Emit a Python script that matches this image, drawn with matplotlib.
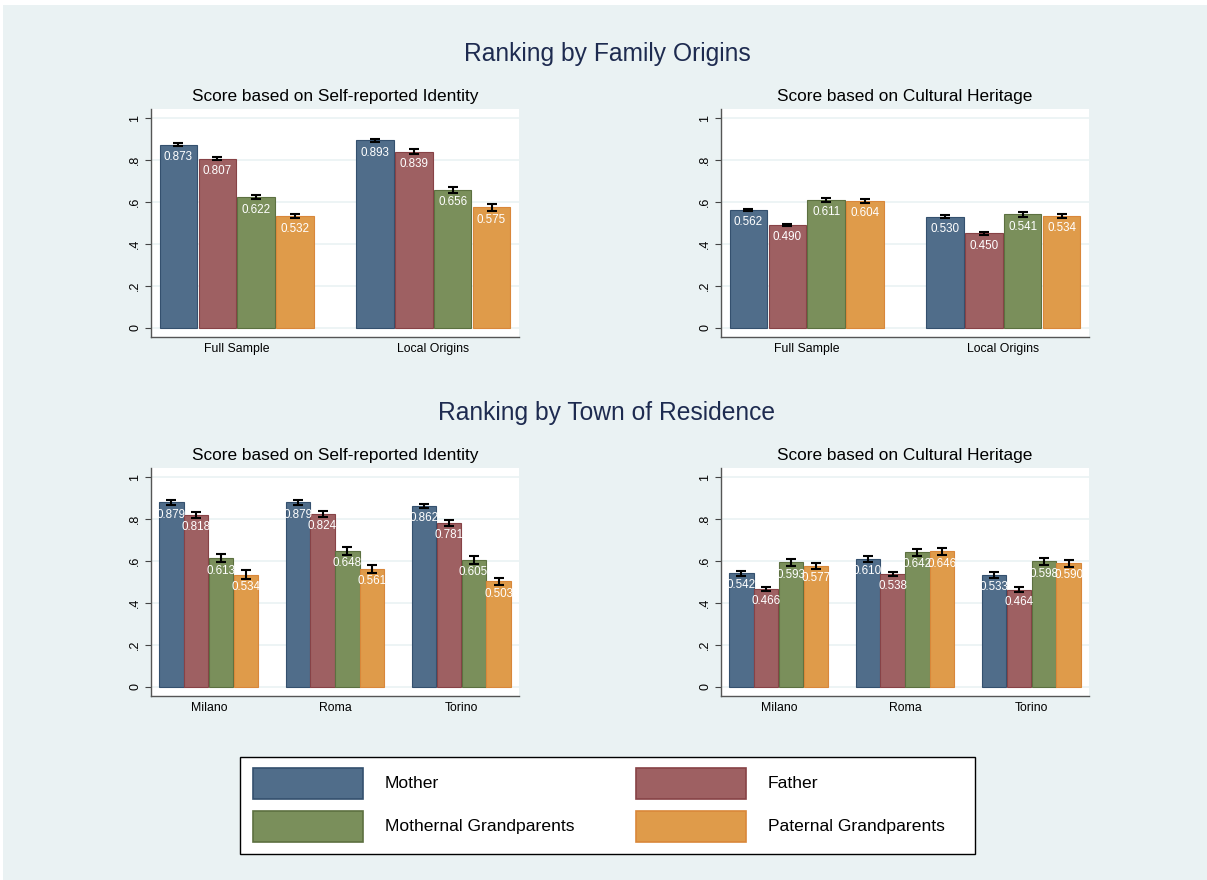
import matplotlib
matplotlib.use("Agg")
import matplotlib.pyplot as plt
from matplotlib.patches import Rectangle
import numpy as np

plt.rcParams['font.family'] = ['Liberation Sans', 'DejaVu Sans']

# ---------------- data ----------------
series = ["Mother", "Father", "Mothernal Grandparents", "Paternal Grandparents"]

origin_groups = ["Full Sample", "Local Origins"]
town_groups = ["Milano", "Roma", "Torino"]

# rows = groups, columns = series
origin_identity = [[0.873, 0.807, 0.622, 0.532],
                   [0.893, 0.839, 0.656, 0.575]]
origin_identity_err = [[0.006, 0.008, 0.009, 0.010],
                       [0.009, 0.012, 0.015, 0.016]]

origin_heritage = [[0.562, 0.490, 0.611, 0.604],
                   [0.530, 0.450, 0.541, 0.534]]
origin_heritage_err = [[0.007, 0.006, 0.009, 0.009],
                       [0.008, 0.006, 0.011, 0.011]]

town_identity = [[0.879, 0.818, 0.613, 0.534],
                 [0.879, 0.824, 0.648, 0.561],
                 [0.862, 0.781, 0.605, 0.503]]
town_identity_err = [[0.012, 0.015, 0.019, 0.021],
                     [0.011, 0.014, 0.019, 0.019],
                     [0.011, 0.015, 0.018, 0.018]]

town_heritage = [[0.542, 0.466, 0.593, 0.577],
                 [0.610, 0.538, 0.642, 0.646],
                 [0.533, 0.464, 0.598, 0.590]]
town_heritage_err = [[0.012, 0.010, 0.016, 0.015],
                     [0.013, 0.011, 0.016, 0.016],
                     [0.013, 0.011, 0.016, 0.017]]

y_ticks = [0, 0.2, 0.4, 0.6, 0.8, 1.0]
y_ticklabels = ["0", ".2", ".4", ".6", ".8", "1"]

# ---------------- style ----------------
face_colors = ["#506D8A", "#9E6062", "#7A8F5B", "#DF9B4A"]
edge_colors = ["#34506E", "#874246", "#5C7040", "#D9873A"]
BG = "#EAF2F3"
TITLE_COLOR = "#1E2B50"

W, H = 1207, 880
fig = plt.figure(figsize=(W / 100, H / 100), dpi=100, facecolor="white")
fig.patches.append(Rectangle((3 / W, 0), 1 - 3 / W, 1 - 5 / H, transform=fig.transFigure,
                             facecolor=BG, edgecolor="none", zorder=-10))


def px_axes(x0, y0, x1, y1):
    return fig.add_axes([x0 / W, 1 - y1 / H, (x1 - x0) / W, (y1 - y0) / H])


def draw_panel(ax, groups, values, errs, title):
    values = np.asarray(values)
    errs = np.asarray(errs)
    n_groups = len(groups)
    n_series = len(series)
    gap = 1.05
    group_w = n_series
    span = n_groups * group_w + (n_groups - 1) * gap
    ax_px = 368.0
    pad_frac = 8.0 / ax_px
    pad = pad_frac * span / (1 - 2 * pad_frac)
    centers = []
    for g in range(n_groups):
        start = g * (group_w + gap)
        centers.append(start + group_w / 2)
        for s in range(n_series):
            x = start + s + 0.5
            v = values[g, s]
            ax.bar(x, v, width=0.965, color=face_colors[s], edgecolor=edge_colors[s],
                   linewidth=0.8, zorder=2)
            ax.errorbar(x, v, yerr=errs[g, s], fmt="none", ecolor="black",
                        elinewidth=1.5, capsize=3.4, capthick=1.5, zorder=3)
            ax.annotate(f"{v:.3f}", (x, v), xytext=(0, -4.5), textcoords="offset points",
                        ha="center", va="top", color="white", fontsize=8.4, zorder=4)
    ax.set_xlim(-pad, span + pad)
    ax.set_ylim(-0.043, 1.043)
    ax.set_yticks(y_ticks)
    ax.set_yticklabels(y_ticklabels, rotation=90, va="center", fontsize=9)
    ax.set_xticks(centers)
    ax.set_xticklabels(groups, fontsize=8.8)
    ax.tick_params(axis="x", length=0, pad=4)
    ax.tick_params(axis="y", length=4, width=0.8, color="#444444", pad=3)
    for side in ["top", "right"]:
        ax.spines[side].set_visible(False)
    for side in ["left", "bottom"]:
        ax.spines[side].set_color("#555555")
        ax.spines[side].set_linewidth(1.0)
    ax.set_facecolor("white")
    for t in y_ticks:
        ax.axhline(t, color=BG, linewidth=1.2, zorder=1)
    ax.set_title(title, fontsize=12.4, pad=6, color="black")


ax1 = px_axes(151, 109, 519, 337)
draw_panel(ax1, origin_groups, origin_identity, origin_identity_err,
           "Score based on Self-reported Identity")
ax2 = px_axes(721, 109, 1089, 337)
draw_panel(ax2, origin_groups, origin_heritage, origin_heritage_err,
           "Score based on Cultural Heritage")
ax3 = px_axes(151, 468, 519, 696)
draw_panel(ax3, town_groups, town_identity, town_identity_err,
           "Score based on Self-reported Identity")
ax4 = px_axes(721, 468, 1089, 696)
draw_panel(ax4, town_groups, town_heritage, town_heritage_err,
           "Score based on Cultural Heritage")

fig.text(607 / W, 1 - 54 / H, "Ranking by Family Origins", ha="center", va="center",
         fontsize=17.7, color=TITLE_COLOR)
fig.text(607 / W, 1 - 413 / H, "Ranking by Town of Residence", ha="center", va="center",
         fontsize=17.7, color=TITLE_COLOR)

# ---------------- legend ----------------
lx0, ly0, lx1, ly1 = 240, 757, 975, 854
fig.patches.append(Rectangle((lx0 / W, 1 - ly1 / H), (lx1 - lx0) / W, (ly1 - ly0) / H,
                             transform=fig.transFigure, facecolor="white",
                             edgecolor="black", linewidth=1.0, zorder=5))
col_x = [253, 636]
row_y = [768, 811]
pw, ph = 110, 31
for i, name in enumerate(series):
    r, c = divmod(i, 2)
    px, py = col_x[c], row_y[r]
    fig.patches.append(Rectangle((px / W, 1 - (py + ph) / H), pw / W, ph / H,
                                 transform=fig.transFigure, facecolor=face_colors[i],
                                 edgecolor=edge_colors[i], linewidth=1.2, zorder=6))
    fig.text((px + pw + 22) / W, 1 - (py + ph / 2) / H, name, ha="left", va="center",
             fontsize=12.6, color="black", zorder=7)

fig.savefig("out.png", dpi=100, facecolor=fig.get_facecolor())
